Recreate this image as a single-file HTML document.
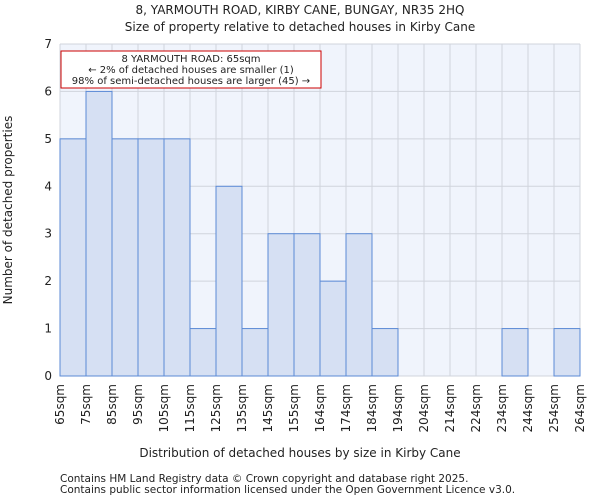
<!DOCTYPE html>
<html><head><meta charset="utf-8"><style>
body{margin:0;background:#fff;font-family:"DejaVu Sans","Liberation Sans",sans-serif;}
svg text{font-family:"DejaVu Sans","Liberation Sans",sans-serif;fill:#222;}
</style></head><body>
<svg id="c" width="600" height="500" xmlns="http://www.w3.org/2000/svg">
<text x="300" y="14" text-anchor="middle" font-size="12">8, YARMOUTH ROAD, KIRBY CANE, BUNGAY, NR35 2HQ</text>
<text x="300" y="31" text-anchor="middle" font-size="12">Size of property relative to detached houses in Kirby Cane</text>
<rect x="60" y="44" width="520" height="332" fill="#f0f4fc"/>
<g id="grid"></g><g id="bars"></g><g id="axes"></g>
<rect x="61" y="51" width="260" height="37" fill="#fff" stroke="#cc0000" stroke-width="1"/>
<text x="191" y="62" text-anchor="middle" font-size="10">8 YARMOUTH ROAD: 65sqm</text>
<text x="191" y="73" text-anchor="middle" font-size="10">← 2% of detached houses are smaller (1)</text>
<text x="191" y="84" text-anchor="middle" font-size="10">98% of semi-detached houses are larger (45) →</text>
<text x="300" y="457" text-anchor="middle" font-size="12">Distribution of detached houses by size in Kirby Cane</text>
<text transform="translate(12,210) rotate(-90)" text-anchor="middle" font-size="12">Number of detached properties</text>
<text x="60" y="482" font-size="10.5">Contains HM Land Registry data © Crown copyright and database right 2025.</text>
<text x="60" y="493" font-size="10.5">Contains public sector information licensed under the Open Government Licence v3.0.</text>
</svg>
<script>
const categories=["65sqm","75sqm","85sqm","95sqm","105sqm","115sqm","125sqm","135sqm","145sqm","155sqm","164sqm","174sqm","184sqm","194sqm","204sqm","214sqm","224sqm","234sqm","244sqm","254sqm","264sqm"];
const counts=[5,6,5,5,5,1,4,1,3,3,2,3,1,0,0,0,0,1,0,1];
const yTicks=[0,1,2,3,4,5,6,7];
const NS="http://www.w3.org/2000/svg";
const L=60,R=580,T=44,B=376,YMAX=7;
const bw=(R-L)/counts.length;
const xs=i=>L+i*bw;
const ys=v=>B-(v/YMAX)*(B-T);
function mk(tag,at,parent){const e=document.createElementNS(NS,tag);for(const k in at)e.setAttribute(k,at[k]);parent.appendChild(e);return e;}
const grid=document.getElementById('grid'),bars=document.getElementById('bars'),axes=document.getElementById('axes');
yTicks.forEach(t=>{
 const g=mk('line',{x1:L,x2:R,y1:ys(t),y2:ys(t),stroke:'#d0d4dc','stroke-width':1},grid);
 
 
 const tx=mk('text',{x:L-8,y:ys(t)+4,'text-anchor':'end','font-size':12},axes);
 tx.textContent=t;
 
 
});
categories.forEach((c,i)=>{
 const x=xs(i);
 const g=mk('line',{x1:x,x2:x,y1:T,y2:B,stroke:'#d0d4dc','stroke-width':1},grid);
 
 
 const tx=mk('text',{transform:`translate(${x+4},${B+8}) rotate(-90)`,'text-anchor':'end','font-size':12},axes);
 tx.textContent=c;
 
 
});
counts.forEach((v,i)=>{
 if(v<=0)return;
 const r=mk('rect',{x:xs(i),y:ys(v),width:bw,height:B-ys(v),fill:'#d6e0f3',stroke:'#5b8ad6','stroke-width':1},bars);
 
 
});
</script>
</body></html>
